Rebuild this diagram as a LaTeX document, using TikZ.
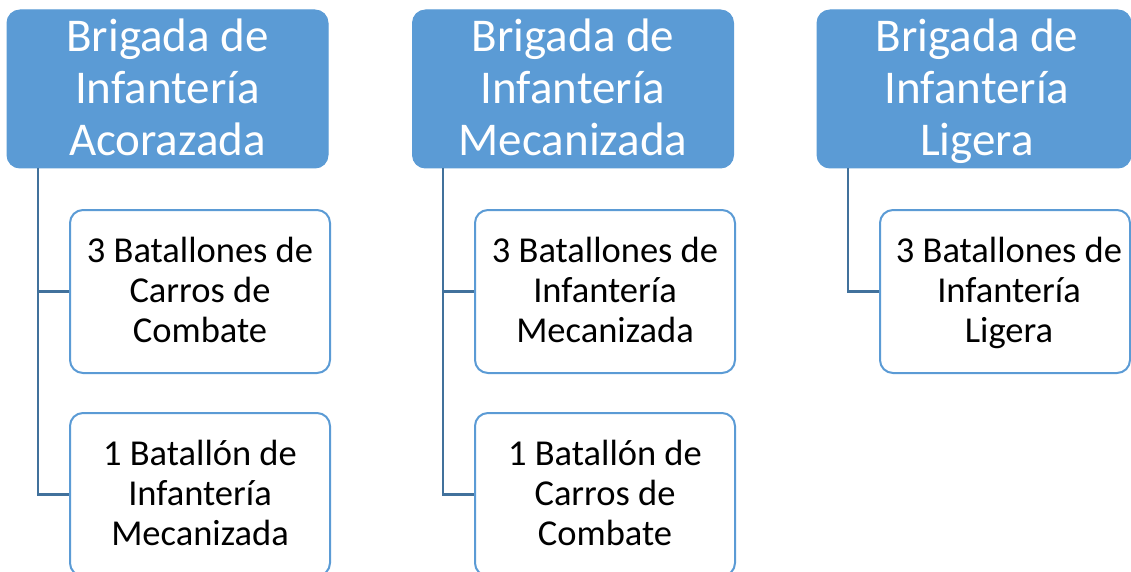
\documentclass[tikz,border=0pt]{standalone}
\usepackage{fontspec}
\setmainfont{Carlito}
\definecolor{hdrblue}{HTML}{5B9BD5}
\definecolor{connblue}{HTML}{41719C}
\tikzset{
  hdrbox/.style={draw=hdrblue, fill=hdrblue, line width=1pt, rounded corners=13pt,
    minimum width=321pt, minimum height=158pt, inner sep=0pt},
  hdrtext/.style={inner sep=0pt, align=center, text=white,
    font=\fontsize{47}{52}\selectfont, yshift=-6pt,
    execute at begin node={\strut}, execute at end node={\strut}},
  subbox/.style={draw=hdrblue, fill=white, line width=2pt, rounded corners=13pt,
    minimum width=260pt, minimum height=163pt, inner sep=0pt},
  subtext/.style={inner sep=0pt, align=center, text=black,
    font=\fontsize{36.5}{40}\selectfont, yshift=-4.5pt,
    execute at begin node={\strut}, execute at end node={\strut}},
  conn/.style={draw=connblue, line width=2.5pt}
}
\begin{document}
\begin{tikzpicture}[x=1pt,y=-1pt]
\useasboundingbox (0,0) rectangle (1131,572);
\begin{scope}
\clip (0,0) rectangle (1131,572);
% column 1
\node[hdrbox] (h1) at (167.5,89) {};
\node[hdrtext] (h1t) at (h1.center) {Brigada de\\Infantería\\Acorazada};
\node[subbox] (c1a) at (200,291.5) {};
\node[subtext] (c1at) at (c1a.center) {3 Batallones de\\Carros de\\Combate};
\node[subbox] (c1b) at (200,494.5) {};
\node[subtext] (c1bt) at (c1b.center) {1 Batallón de\\Infantería\\Mecanizada};
\coordinate (t1) at (38,168);
\draw[conn] (t1) |- (c1a.west);
\draw[conn] (t1) |- (c1b.west);
% column 2
\node[hdrbox] (h2) at (573,89) {};
\node[hdrtext] (h2t) at (h2.center) {Brigada de\\Infantería\\Mecanizada};
\node[subbox] (c2a) at (605,291.5) {};
\node[subtext] (c2at) at (c2a.center) {3 Batallones de\\Infantería\\Mecanizada};
\node[subbox] (c2b) at (605,494.5) {};
\node[subtext] (c2bt) at (c2b.center) {1 Batallón de\\Carros de\\Combate};
\coordinate (t2) at (443,168);
\draw[conn] (t2) |- (c2a.west);
\draw[conn] (t2) |- (c2b.west);
% column 3
\node[hdrbox, minimum width=314pt] (h3) at (974,89) {};
\node[hdrtext, xshift=3pt] (h3t) at (h3.center) {Brigada de\\Infantería\\Ligera};
\node[subbox, minimum width=250pt] (c3a) at (1005,291.5) {};
\node[subtext, xshift=4pt] (c3at) at (c3a.center) {3 Batallones de\\Infantería\\Ligera};
\coordinate (t3) at (848,168);
\draw[conn] (t3) |- (c3a.west);
\end{scope}
\end{tikzpicture}
\end{document}
